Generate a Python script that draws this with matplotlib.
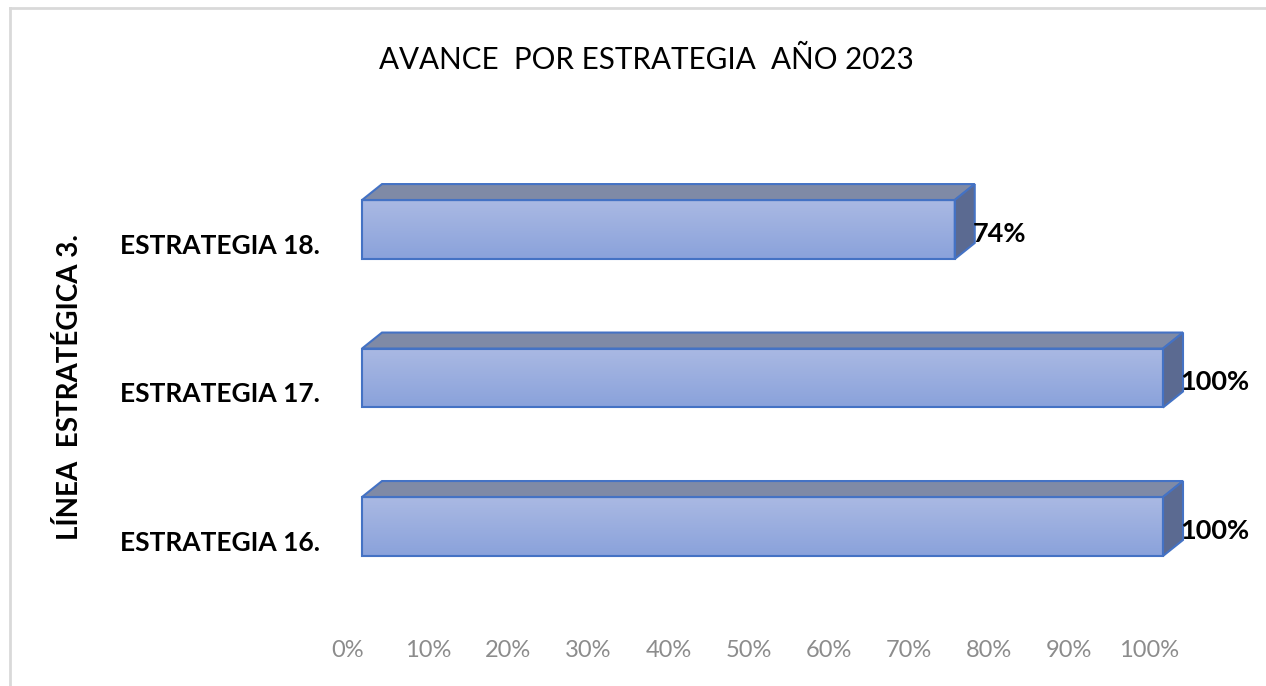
import numpy as np
import matplotlib.pyplot as plt
from matplotlib.patches import Polygon
from matplotlib.lines import Line2D
from matplotlib.transforms import ScaledTranslation
from matplotlib.colors import LinearSegmentedColormap

plt.rcParams['font.family'] = ['Lato', 'DejaVu Sans']

# datos
categorias = ['ESTRATEGIA 16.', 'ESTRATEGIA 17.', 'ESTRATEGIA 18.']
avance = [1.00, 1.00, 0.74]
etiquetas = ['100%', '100%', '74%']
ticks_x = [0, 0.1, 0.2, 0.3, 0.4, 0.5, 0.6, 0.7, 0.8, 0.9, 1.0]
titulo = 'AVANCE  POR ESTRATEGIA  AÑO 2023'
titulo_y = 'LÍNEA  ESTRATÉGICA 3.'

W, H = 1266, 686
fig = plt.figure(figsize=(W / 100, H / 100), dpi=100)

# ejes: 0 -> 362 px, 1 -> 1163 px
ax = fig.add_axes([362 / W, (H - 600) / H, 801 / W, 460 / H])
ax.set_xlim(0, 1)
ax.set_ylim(-0.495, 2.603)
for s in ax.spines.values():
    s.set_visible(False)

y = np.arange(len(categorias))
alto = 0.397
bars = ax.barh(y, avance, height=alto, color='none', edgecolor='#4472C4',
               linewidth=1.5, zorder=3, clip_on=False)

# profundidad 3D en unidades de datos
dx = 20 / 801
dy = 16 / 148.5

grad = np.linspace(0, 1, 100).reshape(-1, 1)
cmap = LinearSegmentedColormap.from_list('g', ['#8AA2DB', '#AAB9E3'])

for b, v in zip(bars, avance):
    x0, y0 = b.get_x(), b.get_y()
    w, h = b.get_width(), b.get_height()
    im = ax.imshow(grad, cmap=cmap, aspect='auto', origin='lower',
                   extent=[x0, x0 + w, y0, y0 + h], zorder=2)
    im.set_clip_path(b)
    top = Polygon([[x0, y0 + h], [x0 + dx, y0 + h + dy], [x0 + w + dx, y0 + h + dy],
                   [x0 + w, y0 + h]], closed=True, facecolor='#7F8AA6',
                  edgecolor='#4472C4', linewidth=1.5, zorder=2, clip_on=False)
    side = Polygon([[x0 + w, y0], [x0 + w + dx, y0 + dy], [x0 + w + dx, y0 + h + dy],
                    [x0 + w, y0 + h]], closed=True, facecolor='#5B6A91',
                   edgecolor='#4472C4', linewidth=1.5, zorder=2, clip_on=False)
    ax.add_patch(top)
    ax.add_patch(side)

for yi, v, t in zip(y, avance, etiquetas):
    ax.text(v + dx - 0.003, yi - 0.03, t, fontsize=19.5, fontweight='bold',
            ha='left', va='center', color='black', zorder=5)

ax.set_xticks(ticks_x)
ax.set_xticklabels([f'{int(round(t * 100))}%' for t in ticks_x])
ax.tick_params(axis='x', length=0, pad=29, labelsize=17, labelcolor='#8C8C8C')
for lab in ax.get_xticklabels():
    lab.set_transform(lab.get_transform() + ScaledTranslation(-0.14, 0, fig.dpi_scale_trans))

ax.set_yticks(y)
ax.set_yticklabels(categorias, fontsize=19, fontweight='bold')
ax.tick_params(axis='y', length=0, pad=30)
for lab in ax.get_yticklabels():
    lab.set_transform(lab.get_transform() + ScaledTranslation(0, -0.14, fig.dpi_scale_trans))

fig.text(646 / W, 1 - 60 / H, titulo, fontsize=21.3, ha='center', va='center')
fig.text(70 / W, 1 - 387 / H, titulo_y, fontsize=20, fontweight='bold',
         rotation=90, ha='center', va='center')

# borde del grafico
fig.add_artist(Line2D([10 / W, 10 / W], [0, 1 - 8 / H], transform=fig.transFigure,
                      color='#D9D9D9', linewidth=2))
fig.add_artist(Line2D([10 / W, 1], [1 - 8 / H, 1 - 8 / H], transform=fig.transFigure,
                      color='#D9D9D9', linewidth=2))

fig.savefig('out.png', dpi=100)
